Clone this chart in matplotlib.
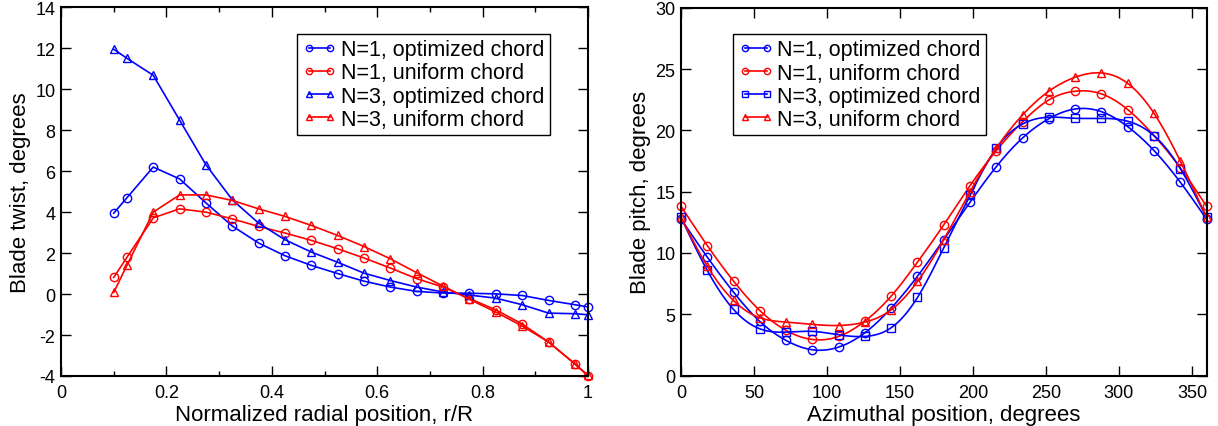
import numpy as np
import matplotlib
matplotlib.use("Agg")
import matplotlib.pyplot as plt
from matplotlib.ticker import MultipleLocator, FormatStrFormatter

plt.rcParams['font.family'] = ['Liberation Sans', 'DejaVu Sans']
plt.rcParams['axes.unicode_minus'] = False

# ---- left panel data ----
r = [0.1, 0.125, 0.175, 0.225, 0.275, 0.325, 0.375, 0.425, 0.475, 0.525,
     0.575, 0.625, 0.675, 0.725, 0.775, 0.825, 0.875, 0.925, 0.975, 1.0]
twist_n1_opt = [3.95, 4.7, 6.2, 5.62, 4.45, 3.32, 2.49, 1.87, 1.4, 1.0,
                0.63, 0.34, 0.13, 0.05, 0.04, 0.01, -0.07, -0.31, -0.52, -0.63]
twist_n1_uni = [0.81, 1.79, 3.72, 4.16, 4.0, 3.67, 3.30, 2.98, 2.62, 2.21,
                1.76, 1.27, 0.75, 0.34, -0.22, -0.77, -1.46, -2.34, -3.41, -4.0]
twist_n3_opt = [11.95, 11.51, 10.68, 8.49, 6.31, 4.6, 3.46, 2.65, 2.05, 1.55,
                1.02, 0.66, 0.34, 0.1, -0.05, -0.2, -0.52, -0.93, -0.96, -1.01]
twist_n3_uni = [0.08, 1.4, 4.0, 4.84, 4.84, 4.57, 4.16, 3.79, 3.35, 2.86,
                2.32, 1.72, 1.04, 0.39, -0.26, -0.88, -1.56, -2.34, -3.41, -3.97]

# ---- right panel data ----
az = [0, 18, 36, 54, 72, 90, 108, 126, 144, 162, 180,
      198, 216, 234, 252, 270, 288, 306, 324, 342, 360]
pitch_n1_opt = [12.76, 9.66, 6.8, 4.41, 2.86, 2.1, 2.32, 3.49, 5.5, 8.1, 11.09,
                14.14, 17.04, 19.38, 20.95, 21.74, 21.52, 20.3, 18.35, 15.77, 12.76]
pitch_n1_uni = [13.81, 10.6, 7.7, 5.3, 3.68, 2.94, 3.19, 4.44, 6.48, 9.25, 12.29,
                15.49, 18.35, 20.7, 22.48, 23.19, 22.97, 21.69, 19.57, 16.95, 13.81]
pitch_n3_opt = [12.9, 8.57, 5.39, 3.81, 3.54, 3.6, 3.32, 3.19, 3.9, 6.37, 10.42,
                14.7, 18.54, 20.52, 21.07, 20.98, 20.98, 20.74, 19.57, 16.88, 12.9]
pitch_n3_uni = [12.9, 8.92, 6.12, 4.71, 4.36, 4.17, 4.08, 4.36, 5.36, 7.67, 11.09,
                15.0, 18.54, 21.26, 23.19, 24.33, 24.68, 23.83, 21.39, 17.5, 12.9]

labels = ["N=1, optimized chord", "N=1, uniform chord",
          "N=3, optimized chord", "N=3, uniform chord"]


def spline_curve(x, y, n=600):
    """Natural cubic spline used only to draw a smooth line through the points."""
    x = np.asarray(x, float)
    y = np.asarray(y, float)
    m = len(x)
    h = np.diff(x)
    A = np.zeros((m, m))
    b = np.zeros(m)
    A[0, 0] = 1
    A[-1, -1] = 1
    for i in range(1, m - 1):
        A[i, i - 1] = h[i - 1]
        A[i, i] = 2 * (h[i - 1] + h[i])
        A[i, i + 1] = h[i]
        b[i] = 3 * ((y[i + 1] - y[i]) / h[i] - (y[i] - y[i - 1]) / h[i - 1])
    c = np.linalg.solve(A, b)
    xs = np.linspace(x[0], x[-1], n)
    idx = np.clip(np.searchsorted(x, xs) - 1, 0, m - 2)
    dx = xs - x[idx]
    hi = h[idx]
    bb = (y[idx + 1] - y[idx]) / hi - hi * (2 * c[idx] + c[idx + 1]) / 3
    dd = (c[idx + 1] - c[idx]) / (3 * hi)
    ys = y[idx] + bb * dx + c[idx] * dx ** 2 + dd * dx ** 3
    return xs, ys


fig = plt.figure(figsize=(12.18, 4.27), dpi=100)
ax1 = fig.add_axes([0.0501, 0.1171, 0.4327, 0.8635])
ax2 = fig.add_axes([0.5591, 0.1182, 0.4315, 0.8614])

BLUE = '#0000ff'
RED = '#ff0000'
lw = 1.2
ms = 6.0
mew = 1.0

styles1 = [(twist_n1_opt, BLUE, 'o'), (twist_n1_uni, RED, 'o'),
           (twist_n3_opt, BLUE, '^'), (twist_n3_uni, RED, '^')]
for (vals, col, mk), lab in zip(styles1, labels):
    ax1.plot(r, vals, color=col, lw=lw, marker=mk, ms=ms, mfc='none',
             mec=col, mew=mew, label=lab, clip_on=False)

styles2 = [(pitch_n1_opt, BLUE, 'o'), (pitch_n1_uni, RED, 'o'),
           (pitch_n3_opt, BLUE, 's'), (pitch_n3_uni, RED, '^')]
for (vals, col, mk), lab in zip(styles2, labels):
    xs, ys = spline_curve(az, vals)
    ax2.plot(xs, ys, color=col, lw=lw, clip_on=False)
    ax2.plot(az, vals, ls='none', marker=mk, ms=ms, mfc='none', mec=col,
             mew=mew, clip_on=False)
    ax2.plot([], [], color=col, lw=lw, marker=mk, ms=ms, mfc='none',
             mec=col, mew=mew, label=lab)

ax1.set_xlim(0, 1)
ax1.set_ylim(-4, 14)
ax1.xaxis.set_major_locator(MultipleLocator(0.2))
ax1.xaxis.set_minor_locator(MultipleLocator(0.1))
ax1.yaxis.set_major_locator(MultipleLocator(2))
ax1.xaxis.set_major_formatter(FormatStrFormatter('%g'))
ax1.set_xlabel("Normalized radial position, r/R", fontsize=16, labelpad=2)
ax1.set_ylabel("Blade twist, degrees", fontsize=16, labelpad=3)

ax2.set_xlim(0, 360)
ax2.set_ylim(0, 30)
ax2.xaxis.set_major_locator(MultipleLocator(50))
ax2.yaxis.set_major_locator(MultipleLocator(5))
ax2.set_xlabel("Azimuthal position, degrees", fontsize=16, labelpad=2)
ax2.set_ylabel("Blade pitch, degrees", fontsize=16, labelpad=3)

for ax in (ax1, ax2):
    for s in ax.spines.values():
        s.set_linewidth(1.5)
    ax.tick_params(which='both', direction='in', top=True, right=True,
                   labelsize=13, width=1.0)
    ax.tick_params(axis='x', which='both', pad=6)
    ax.tick_params(axis='y', which='both', pad=4)
    ax.tick_params(which='major', length=7)
    ax.tick_params(which='minor', length=3.5)

leg_kw = dict(fontsize=15.5, frameon=True, fancybox=False, edgecolor='black',
              framealpha=1, borderpad=0.25, labelspacing=0.1,
              handlelength=1.6, handletextpad=0.2, markerscale=0.75,
              borderaxespad=0, numpoints=2)
l1 = ax1.legend(loc='upper left', bbox_to_anchor=(0.448, 0.928), **leg_kw)
l2 = ax2.legend(loc='upper left', bbox_to_anchor=(0.0995, 0.9285), **leg_kw)
for l in (l1, l2):
    l.get_frame().set_linewidth(1.0)

fig.savefig("out.png", dpi=100)
